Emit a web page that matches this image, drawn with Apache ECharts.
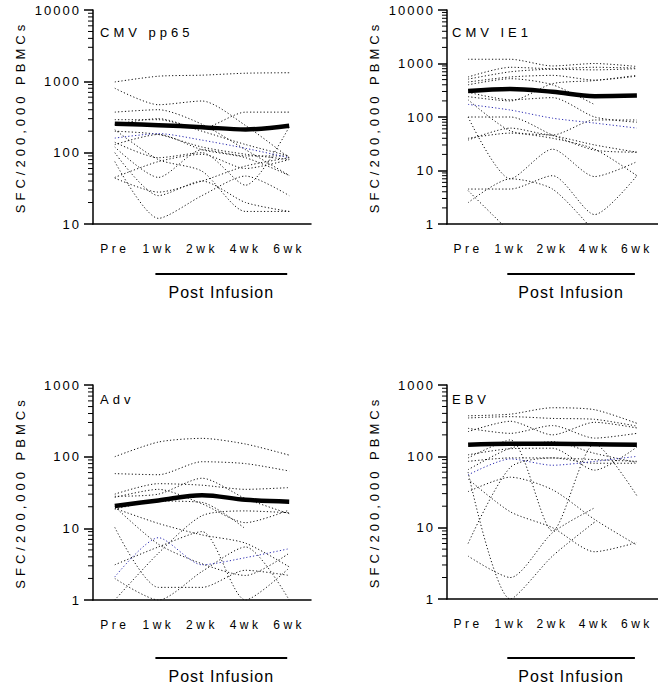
<!DOCTYPE html>
<html>
<head>
<meta charset="utf-8">
<script src="https://cdn.jsdelivr.net/npm/echarts@6/dist/echarts.min.js"></script>
<style>
  html, body { margin: 0; padding: 0; background: #fff; }
  #main { width: 658px; height: 691px; }
  #main text { letter-spacing: 3.5px; }
</style>
</head>
<body>
<div id="main"></div>
<script>
// time points
const categories = ['Pre', '1wk', '2wk', '4wk', '6wk']

// CMV pp65 - each row is one patient
const pp65Lines = [
  [980, 1180, 1220, 1300, 1320],
  [800, 470, 530, 240, 85],
  [370, 400, 250, 110, 48],
  [290, 290, 220, 370, 370],
  [200, 180, 120, 95, 80],
  [140, 85, 100, 35, 230],
  [120, 45, 110, 90, 90],
  [44, 28, 40, 65, 85],
  [75, 12, 25, 47, 25],
  [100, 25, 40, 20, 15],
  [210, 80, 55, 15, 15],
  [130, 180, 110, 85, 48],
  [250, 300, 200, 130, 90],
  [45, 75, 95, 60, 80]
]
const pp65Blue = [160, 185, 150, 115, 85]
const pp65Median = [255, 243, 228, 212, 238]

// CMV IE1
const ie1Lines = [
  [1200, 1200, 900, 1000, 880],
  [560, 850, 800, 850, 820],
  [510, 700, 780, 760, 800],
  [450, 560, 600, 490, 580],
  [400, 520, 400, 170, null],
  [240, 200, 420, 480, 600],
  [100, 100, 46, 24, 22],
  [37, 62, 46, 88, 88],
  [40, 50, 40, 25, 8],
  [100, 7, 25, 7.7, 14.6],
  [4.5, 4.5, 8, 1.5, 8],
  [2.5, 7, 4.5, 0.7, null],
  [4.2, 0.7, null, null, null],
  [290, 210, 230, 100, 80],
  [210, 55, 45, 30, 22]
]
const ie1Blue = [172, 135, 95, 77, 62]
const ie1Median = [305, 335, 295, 245, 252]

// Adv
const advLines = [
  [100, 160, 180, 150, 105],
  [58, 56, 85, 80, 63],
  [30, 42, 40, 35, 37],
  [28, 30, 50, 26, 16],
  [18.5, 24, 23, 9.8, null],
  [1.0, 4.5, 15, 17.5, 16.5],
  [10.3, 1.5, 1.5, 2.6, 2.2],
  [3.1, 5.5, 9, 1, 2.8],
  [2, 1, 2.5, 5.5, 1],
  [19, 11.7, 8.1, 6.2, 2.9],
  [27, 35, 22, 12, 18],
  [20, 6, 3.2, 2.2, 4.5]
]
const advBlue = [2.1, 7.4, 3.1, 3.9, 5.2]
const advMedian = [20.5, 24.5, 29, 25, 23.5]

// EBV
const ebvLines = [
  [370, 390, 480, 450, 290],
  [345, 360, 340, 330, 265],
  [247, 210, 270, 180, 210],
  [222, 310, 200, 300, 250],
  [105, 128, 130, 64, 135],
  [65, 130, 160, 110, 82],
  [32, 51, 34, 13, 5.7],
  [48, 16.7, 10, 4.6, 6.2],
  [6, 70, 95, 90, 85],
  [4, 2, 8.5, 19, null],
  [60, 1.0, 4, 12, null],
  [95, 170, 9, 150, 28],
  [85, 95, 95, 80, 80]
]
const ebvBlue = [55, 92, 75, 85, 100]
const ebvMedian = [145, 150, 150, 148, 145]

const panelTitles = ['CMV pp65', 'CMV IE1', 'Adv', 'EBV']
const yMins = [10, 1, 1, 1]
const yMaxs = [10000, 10000, 1000, 1000]

const FONT = 'Arial, "Liberation Sans", sans-serif'

// layout of the four panels
const panels = [
  { left: 93, top: 10, width: 218, height: 214, titleX: 100, titleY: 26, labelGap: 19, bracketGap: 50, lines: pp65Lines, blue: pp65Blue, median: pp65Median },
  { left: 447, top: 10, width: 217, height: 214, titleX: 452, titleY: 26, labelGap: 19, bracketGap: 50, lines: ie1Lines, blue: ie1Blue, median: ie1Median },
  { left: 93, top: 385, width: 218, height: 215, titleX: 100, titleY: 393, labelGap: 19, bracketGap: 58, lines: advLines, blue: advBlue, median: advMedian },
  { left: 447, top: 385, width: 217, height: 214, titleX: 452, titleY: 393, labelGap: 19, bracketGap: 59, lines: ebvLines, blue: ebvBlue, median: ebvMedian }
]

const chart = echarts.init(document.getElementById('main'), null, { renderer: 'svg' })

const grids = [], xAxes = [], yAxes = [], titles = [], series = []

panels.forEach((p, i) => {
  grids.push({ left: p.left, top: p.top, width: p.width, height: p.height, containLabel: false })
  xAxes.push({
    type: 'category',
    gridIndex: i,
    data: categories,
    boundaryGap: true,
    axisLine: { lineStyle: { color: '#000', width: 1.5 } },
    axisTick: { alignWithLabel: true, length: 7, lineStyle: { color: '#000', width: 1.5 } },
    axisLabel: { color: '#000', fontSize: 12, margin: p.labelGap, fontFamily: FONT }
  })
  yAxes.push({
    type: 'log',
    gridIndex: i,
    logBase: 10,
    min: yMins[i],
    max: yMaxs[i],
    splitNumber: Math.round(Math.log10(yMaxs[i] / yMins[i])),
    name: 'SFC/200,000 PBMCs',
    nameLocation: 'middle',
    nameGap: 66,
    nameTextStyle: { color: '#000', fontSize: 13, fontFamily: FONT },
    axisLine: { show: true, lineStyle: { color: '#000', width: 1.5 } },
    axisTick: { show: true, length: 9, lineStyle: { color: '#000', width: 1.5 } },
    axisLabel: { color: '#000', fontSize: 13, margin: 12, fontFamily: FONT, formatter: v => String(Math.round(v)) },
    splitLine: { show: false }
  })
  titles.push({
    text: panelTitles[i],
    left: p.titleX,
    top: p.titleY,
    padding: 0,
    textStyle: { fontSize: 13, fontWeight: 'normal', color: '#000', fontFamily: FONT }
  })
  p.lines.forEach(line => {
    series.push({
      type: 'line', xAxisIndex: i, yAxisIndex: i, data: line,
      symbol: 'none', smooth: 0.25, silent: true, z: 2,
      lineStyle: { color: '#111', width: 1, type: [1.2, 2.2] }
    })
  })
  series.push({
    type: 'line', xAxisIndex: i, yAxisIndex: i, data: p.blue,
    symbol: 'none', smooth: 0.25, silent: true, z: 3,
    lineStyle: { color: '#2a2ab0', width: 1, type: [1.2, 2.2] }
  })
  series.push({
    type: 'line', xAxisIndex: i, yAxisIndex: i, data: p.median,
    symbol: 'none', smooth: 0.35, silent: true, z: 4,
    lineStyle: { color: '#000', width: 4.5 }
  })
})

chart.setOption({
  animation: false,
  backgroundColor: '#fff',
  title: titles,
  grid: grids,
  xAxis: xAxes,
  yAxis: yAxes,
  series: series
})

// minor log ticks and the "Post Infusion" bracket
const graphics = []
panels.forEach((p, i) => {
  for (let d = yMins[i]; d < yMaxs[i]; d *= 10) {
    for (let m = 2; m <= 9; m++) {
      const y = chart.convertToPixel({ yAxisIndex: i }, m * d)
      graphics.push({
        type: 'line', silent: true,
        shape: { x1: p.left - 5, y1: y, x2: p.left, y2: y },
        style: { stroke: '#000', lineWidth: 1 }
      })
    }
  }
  const x1 = chart.convertToPixel({ xAxisIndex: i }, '1wk') - 3
  const x2 = chart.convertToPixel({ xAxisIndex: i }, '6wk') - 2
  const yb = p.top + p.height + p.bracketGap
  graphics.push({
    type: 'line', silent: true,
    shape: { x1: x1, y1: yb, x2: x2, y2: yb },
    style: { stroke: '#000', lineWidth: 2 }
  })
  graphics.push({
    type: 'text', silent: true,
    x: (x1 + x2) / 2, y: yb + 18,
    style: { text: 'Post Infusion', fill: '#000', font: '16px ' + FONT, textAlign: 'center', textVerticalAlign: 'middle' }
  })
})
chart.setOption({ graphic: graphics })

// spacing of the texts like in the original figure
function spaceTexts () {
  document.querySelectorAll('#main text').forEach(t => {
    const s = t.textContent
    if (s === 'Post Infusion') t.style.letterSpacing = '1px'
    else if (/^\d+$/.test(s)) t.style.letterSpacing = '2px'
    else if (s === 'SFC/200,000 PBMCs') t.style.letterSpacing = '4px'
    else if (panelTitles.indexOf(s) >= 0) t.style.letterSpacing = '4px'
    else t.style.letterSpacing = '3.5px'
  })
}
spaceTexts()
chart.on('finished', spaceTexts)
</script>
</body>
</html>
